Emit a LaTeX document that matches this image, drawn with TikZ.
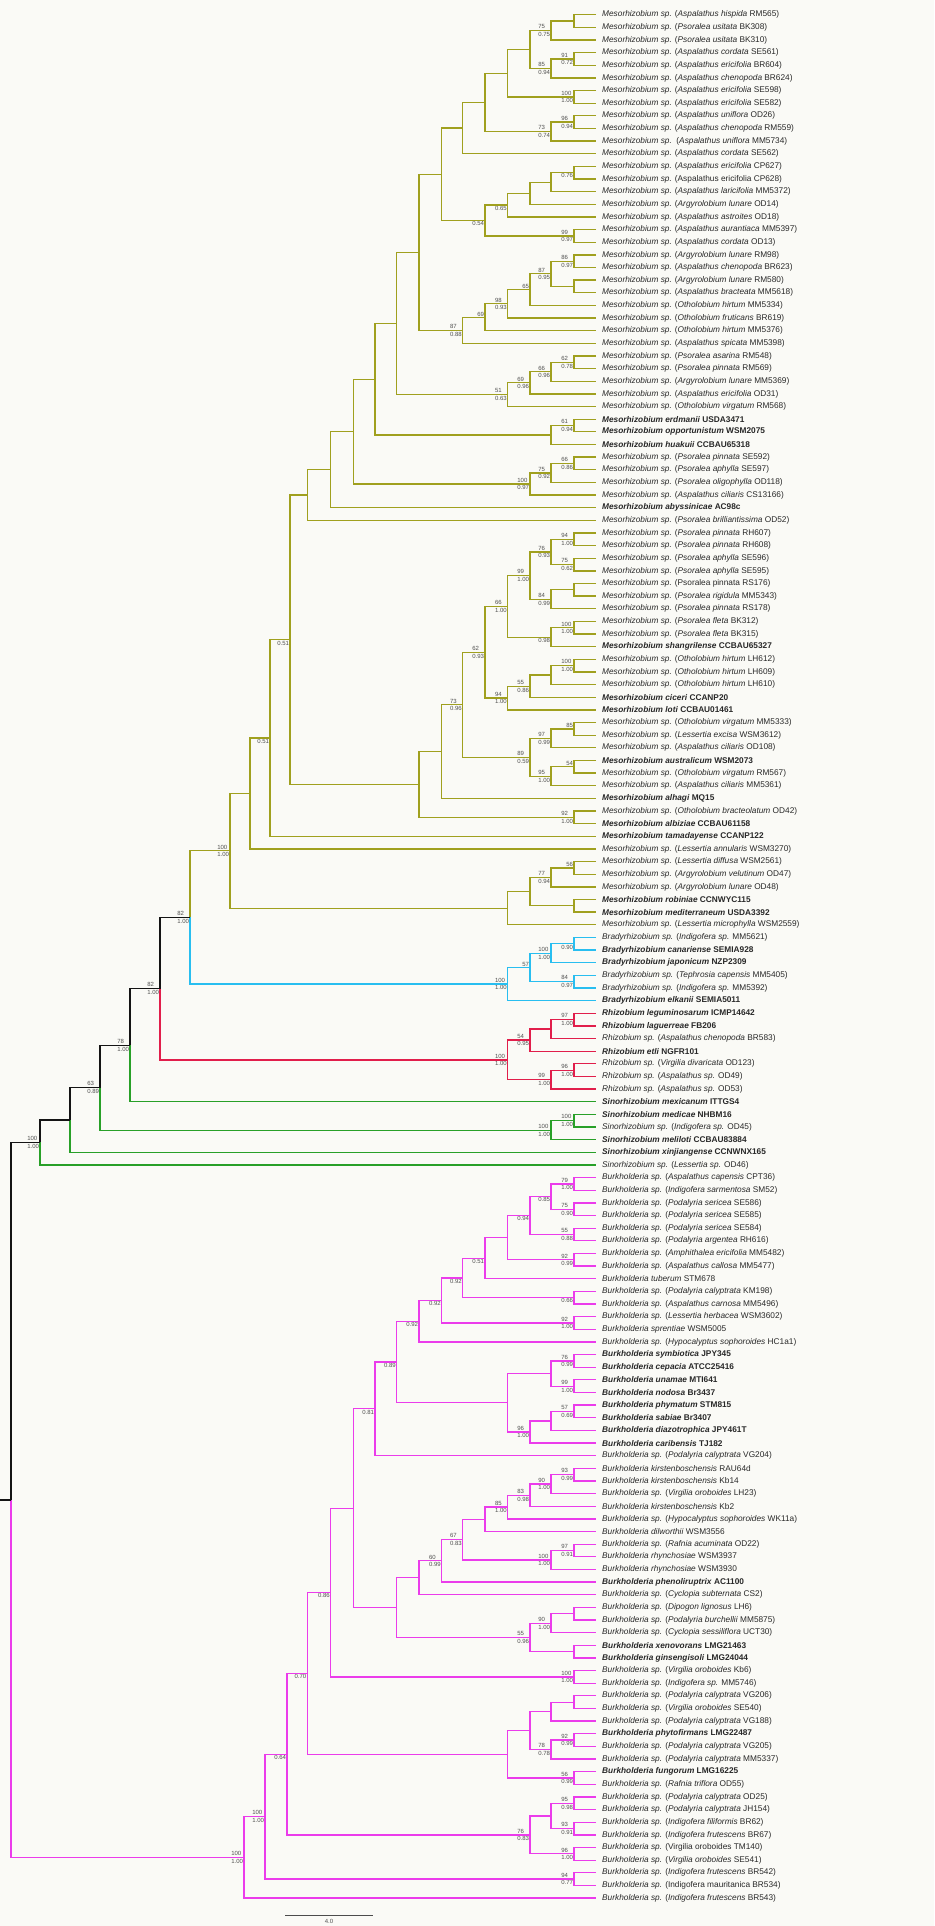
\documentclass[tikz,border=0pt]{standalone}
\usepackage{fontspec}
\setmainfont{Liberation Sans}
\usetikzlibrary{calc}
\definecolor{olv}{RGB}{160,160,30}
\definecolor{cyn}{RGB}{40,190,240}
\definecolor{rd}{RGB}{225,30,75}
\definecolor{grn}{RGB}{40,160,40}
\definecolor{mag}{RGB}{235,60,235}
\definecolor{bk}{RGB}{20,20,20}
\definecolor{bgc}{RGB}{250,250,246}
\definecolor{txt}{RGB}{40,40,40}
\definecolor{supc}{RGB}{80,80,80}
\tikzset{
 leaf/.style={anchor=west, inner sep=0pt, font=\fontsize{8.3}{9}\selectfont, text=txt},
 br/.style={line width=1.3pt, line join=miter},
 st/.style={inner sep=0pt, font=\fontsize{6}{7.6}\selectfont, text=supc, align=left},
}
\newcommand\ms[2]{\textit{Mesorhizobium sp.} (\textit{#1} #2)}
\newcommand\hs[3]{\textit{#1 sp.} (\textit{#2} #3)}
\newcommand\bb[2]{\textbf{\textit{#1}} \textbf{#2}}
\newcommand\lf[2]{\pgfmathsetmacro\yy{14.7+(#1-1)*12.64}\coordinate (t#1) at (596,\yy);\node[leaf] (L#1) at (602,\yy) {#2};}
\newcommand\nd[4]{\coordinate (#1) at ($(#3)!0.5!(#4)$);\coordinate (#1) at (#2,0 |- #1);}
\newcommand\nde[5]{\nd{#1}{#2}{#3}{#4}\draw[br,#5] (#3) -| (#1) |- (#4);}
\newcommand\ed[3]{\draw[br,#1] (#2) |- (#3);}
\newcommand\Lab[3]{\node[st,anchor=east] (lab-#1) at ([xshift=-0.8pt]#1) {#2\\#3};}
\newcommand\LabT[2]{\node[st,anchor=south east] (lab-#1) at ([xshift=-0.8pt,yshift=0.9pt]#1) {#2};}
\newcommand\LabB[2]{\node[st,anchor=north east] (lab-#1) at ([xshift=-0.8pt,yshift=-0.9pt]#1) {#2};}
\begin{document}
\begin{tikzpicture}[x=1pt,y=-1pt]
\fill[bgc] (0,0) rectangle (934,1926);
\useasboundingbox (0,0) rectangle (934,1926);
% ---------------- leaves
\lf{1}{\ms{Aspalathus hispida}{RM565}}
\lf{2}{\ms{Psoralea usitata}{BK308}}
\lf{3}{\ms{Psoralea usitata}{BK310}}
\lf{4}{\ms{Aspalathus cordata}{SE561}}
\lf{5}{\ms{Aspalathus ericifolia}{BR604}}
\lf{6}{\ms{Aspalathus chenopoda}{BR624}}
\lf{7}{\ms{Aspalathus ericifolia}{SE598}}
\lf{8}{\ms{Aspalathus ericifolia}{SE582}}
\lf{9}{\ms{Aspalathus uniflora}{OD26}}
\lf{10}{\ms{Aspalathus chenopoda}{RM559}}
\lf{11}{\textit{Mesorhizobium sp.}\ \ (\textit{Aspalathus uniflora} MM5734)}
\lf{12}{\ms{Aspalathus cordata}{SE562}}
\lf{13}{\ms{Aspalathus ericifolia}{CP627}}
\lf{14}{\textit{Mesorhizobium sp.} (Aspalathus ericifolia CP628)}
\lf{15}{\ms{Aspalathus laricifolia}{MM5372}}
\lf{16}{\ms{Argyrolobium lunare}{OD14}}
\lf{17}{\ms{Aspalathus astroites}{OD18}}
\lf{18}{\ms{Aspalathus aurantiaca}{MM5397}}
\lf{19}{\ms{Aspalathus cordata}{OD13}}
\lf{20}{\ms{Argyrolobium lunare}{RM98}}
\lf{21}{\ms{Aspalathus chenopoda}{BR623}}
\lf{22}{\ms{Argyrolobium lunare}{RM580}}
\lf{23}{\ms{Aspalathus bracteata}{MM5618}}
\lf{24}{\ms{Otholobium hirtum}{MM5334}}
\lf{25}{\ms{Otholobium fruticans}{BR619}}
\lf{26}{\ms{Otholobium hirtum}{MM5376}}
\lf{27}{\ms{Aspalathus spicata}{MM5398}}
\lf{28}{\ms{Psoralea asarina}{RM548}}
\lf{29}{\ms{Psoralea pinnata}{RM569}}
\lf{30}{\ms{Argyrolobium lunare}{MM5369}}
\lf{31}{\ms{Aspalathus ericifolia}{OD31}}
\lf{32}{\ms{Otholobium virgatum}{RM568}}
\lf{33}{\bb{Mesorhizobium erdmanii}{USDA3471}}
\lf{34}{\bb{Mesorhizobium opportunistum}{WSM2075}}
\lf{35}{\bb{Mesorhizobium huakuii}{CCBAU65318}}
\lf{36}{\ms{Psoralea pinnata}{SE592}}
\lf{37}{\ms{Psoralea aphylla}{SE597}}
\lf{38}{\ms{Psoralea oligophylla}{OD118}}
\lf{39}{\ms{Aspalathus ciliaris}{CS13166}}
\lf{40}{\bb{Mesorhizobium abyssinicae}{AC98c}}
\lf{41}{\ms{Psoralea brilliantissima}{OD52}}
\lf{42}{\ms{Psoralea pinnata}{RH607}}
\lf{43}{\ms{Psoralea pinnata}{RH608}}
\lf{44}{\ms{Psoralea aphylla}{SE596}}
\lf{45}{\ms{Psoralea aphylla}{SE595}}
\lf{46}{\textit{Mesorhizobium sp.} (Psoralea pinnata RS176)}
\lf{47}{\ms{Psoralea rigidula}{MM5343}}
\lf{48}{\ms{Psoralea pinnata}{RS178}}
\lf{49}{\ms{Psoralea fleta}{BK312}}
\lf{50}{\ms{Psoralea fleta}{BK315}}
\lf{51}{\bb{Mesorhizobium shangrilense}{CCBAU65327}}
\lf{52}{\ms{Otholobium hirtum}{LH612}}
\lf{53}{\ms{Otholobium hirtum}{LH609}}
\lf{54}{\ms{Otholobium hirtum}{LH610}}
\lf{55}{\bb{Mesorhizobium ciceri}{CCANP20}}
\lf{56}{\bb{Mesorhizobium loti}{CCBAU01461}}
\lf{57}{\ms{Otholobium virgatum}{MM5333}}
\lf{58}{\ms{Lessertia excisa}{WSM3612}}
\lf{59}{\ms{Aspalathus ciliaris}{OD108}}
\lf{60}{\bb{Mesorhizobium australicum}{WSM2073}}
\lf{61}{\ms{Otholobium virgatum}{RM567}}
\lf{62}{\ms{Aspalathus ciliaris}{MM5361}}
\lf{63}{\bb{Mesorhizobium alhagi}{MQ15}}
\lf{64}{\ms{Otholobium bracteolatum}{OD42}}
\lf{65}{\bb{Mesorhizobium albiziae}{CCBAU61158}}
\lf{66}{\bb{Mesorhizobium tamadayense}{CCANP122}}
\lf{67}{\ms{Lessertia annularis}{WSM3270}}
\lf{68}{\ms{Lessertia diffusa}{WSM2561}}
\lf{69}{\ms{Argyrolobium velutinum}{OD47}}
\lf{70}{\ms{Argyrolobium lunare}{OD48}}
\lf{71}{\bb{Mesorhizobium robiniae}{CCNWYC115}}
\lf{72}{\bb{Mesorhizobium mediterraneum}{USDA3392}}
\lf{73}{\ms{Lessertia microphylla}{WSM2559}}
\lf{74}{\hs{Bradyrhizobium}{Indigofera sp.}{MM5621}}
\lf{75}{\bb{Bradyrhizobium canariense}{SEMIA928}}
\lf{76}{\bb{Bradyrhizobium japonicum}{NZP2309}}
\lf{77}{\hs{Bradyrhizobium}{Tephrosia capensis}{MM5405}}
\lf{78}{\hs{Bradyrhizobium}{Indigofera sp.}{MM5392}}
\lf{79}{\bb{Bradyrhizobium elkanii}{SEMIA5011}}
\lf{80}{\bb{Rhizobium leguminosarum}{ICMP14642}}
\lf{81}{\bb{Rhizobium laguerreae}{FB206}}
\lf{82}{\hs{Rhizobium}{Aspalathus chenopoda}{BR583}}
\lf{83}{\bb{Rhizobium etli}{NGFR101}}
\lf{84}{\hs{Rhizobium}{Virgilia divaricata}{OD123}}
\lf{85}{\hs{Rhizobium}{Aspalathus sp.}{OD49}}
\lf{86}{\hs{Rhizobium}{Aspalathus sp.}{OD53}}
\lf{87}{\bb{Sinorhizobium mexicanum}{ITTGS4}}
\lf{88}{\bb{Sinorhizobium medicae}{NHBM16}}
\lf{89}{\hs{Sinorhizobium}{Indigofera sp.}{OD45}}
\lf{90}{\bb{Sinorhizobium meliloti}{CCBAU83884}}
\lf{91}{\bb{Sinorhizobium xinjiangense}{CCNWNX165}}
\lf{92}{\hs{Sinorhizobium}{Lessertia sp.}{OD46}}
\lf{93}{\hs{Burkholderia}{Aspalathus capensis}{CPT36}}
\lf{94}{\hs{Burkholderia}{Indigofera sarmentosa}{SM52}}
\lf{95}{\hs{Burkholderia}{Podalyria sericea}{SE586}}
\lf{96}{\hs{Burkholderia}{Podalyria sericea}{SE585}}
\lf{97}{\hs{Burkholderia}{Podalyria sericea}{SE584}}
\lf{98}{\hs{Burkholderia}{Podalyria argentea}{RH616}}
\lf{99}{\hs{Burkholderia}{Amphithalea ericifolia}{MM5482}}
\lf{100}{\hs{Burkholderia}{Aspalathus callosa}{MM5477}}
\lf{101}{\textit{Burkholderia tuberum} STM678}
\lf{102}{\hs{Burkholderia}{Podalyria calyptrata}{KM198}}
\lf{103}{\hs{Burkholderia}{Aspalathus carnosa}{MM5496}}
\lf{104}{\hs{Burkholderia}{Lessertia herbacea}{WSM3602}}
\lf{105}{\textit{Burkholderia sprentiae} WSM5005}
\lf{106}{\hs{Burkholderia}{Hypocalyptus sophoroides}{HC1a1}}
\lf{107}{\bb{Burkholderia symbiotica}{JPY345}}
\lf{108}{\bb{Burkholderia cepacia}{ATCC25416}}
\lf{109}{\bb{Burkholderia unamae}{MTI641}}
\lf{110}{\bb{Burkholderia nodosa}{Br3437}}
\lf{111}{\bb{Burkholderia phymatum}{STM815}}
\lf{112}{\bb{Burkholderia sabiae}{Br3407}}
\lf{113}{\bb{Burkholderia diazotrophica}{JPY461T}}
\lf{114}{\bb{Burkholderia caribensis}{TJ182}}
\lf{115}{\hs{Burkholderia}{Podalyria calyptrata}{VG204}}
\lf{116}{\textit{Burkholderia kirstenboschensis} RAU64d}
\lf{117}{\textit{Burkholderia kirstenboschensis} Kb14}
\lf{118}{\hs{Burkholderia}{Virgilia oroboides}{LH23}}
\lf{119}{\textit{Burkholderia kirstenboschensis} Kb2}
\lf{120}{\hs{Burkholderia}{Hypocalyptus sophoroides}{WK11a}}
\lf{121}{\textit{Burkholderia dilworthii} WSM3556}
\lf{122}{\hs{Burkholderia}{Rafnia acuminata}{OD22}}
\lf{123}{\textit{Burkholderia rhynchosiae} WSM3937}
\lf{124}{\textit{Burkholderia rhynchosiae} WSM3930}
\lf{125}{\bb{Burkholderia phenoliruptrix}{AC1100}}
\lf{126}{\hs{Burkholderia}{Cyclopia subternata}{CS2}}
\lf{127}{\hs{Burkholderia}{Dipogon lignosus}{LH6}}
\lf{128}{\hs{Burkholderia}{Podalyria burchellii}{MM5875}}
\lf{129}{\hs{Burkholderia}{Cyclopia sessiliflora}{UCT30}}
\lf{130}{\bb{Burkholderia xenovorans}{LMG21463}}
\lf{131}{\bb{Burkholderia ginsengisoli}{LMG24044}}
\lf{132}{\hs{Burkholderia}{Virgilia oroboides}{Kb6}}
\lf{133}{\hs{Burkholderia}{Indigofera sp.}{MM5746}}
\lf{134}{\hs{Burkholderia}{Podalyria calyptrata}{VG206}}
\lf{135}{\hs{Burkholderia}{Virgilia oroboides}{SE540}}
\lf{136}{\hs{Burkholderia}{Podalyria calyptrata}{VG188}}
\lf{137}{\bb{Burkholderia phytofirmans}{LMG22487}}
\lf{138}{\hs{Burkholderia}{Podalyria calyptrata}{VG205}}
\lf{139}{\hs{Burkholderia}{Podalyria calyptrata}{MM5337}}
\lf{140}{\bb{Burkholderia fungorum}{LMG16225}}
\lf{141}{\hs{Burkholderia}{Rafnia triflora}{OD55}}
\lf{142}{\hs{Burkholderia}{Podalyria calyptrata}{OD25}}
\lf{143}{\hs{Burkholderia}{Podalyria calyptrata}{JH154}}
\lf{144}{\hs{Burkholderia}{Indigofera filiformis}{BR62}}
\lf{145}{\hs{Burkholderia}{Indigofera frutescens}{BR67}}
\lf{146}{\textit{Burkholderia sp.} (Virgilia oroboides TM140)}
\lf{147}{\hs{Burkholderia}{Virgilia oroboides}{SE541}}
\lf{148}{\hs{Burkholderia}{Indigofera frutescens}{BR542}}
\lf{149}{\textit{Burkholderia sp.} (Indigofera mauritanica BR534)}
\lf{150}{\hs{Burkholderia}{Indigofera frutescens}{BR543}}
% ---------------- Mesorhizobium upper
\nde{m1}{574}{t1}{t2}{olv}
\nde{m2}{551}{m1}{t3}{olv}\Lab{m2}{75}{0.75}
\nde{m3}{574}{t4}{t5}{olv}\Lab{m3}{91}{0.72}
\nde{m4}{551}{m3}{t6}{olv}\Lab{m4}{85}{0.94}
\nde{m5}{530}{m2}{m4}{olv}
\nde{m6}{574}{t7}{t8}{olv}\Lab{m6}{100}{1.00}
\nde{m7}{507.7}{m5}{m6}{olv}
\nde{m8}{574}{t9}{t10}{olv}\Lab{m8}{96}{0.94}
\nde{m9}{551}{m8}{t11}{olv}\Lab{m9}{73}{0.74}
\nde{m10}{485}{m7}{m9}{olv}
\nde{m11}{462.7}{m10}{t12}{olv}
\nde{m12}{574}{t13}{t14}{olv}\LabB{m12}{0.76}
\nde{m13}{551}{m12}{t15}{olv}
\nde{m14}{530}{m13}{t16}{olv}
\nde{m15}{507.7}{m14}{t17}{olv}\LabB{m15}{0.65}
\nde{m16}{574}{t18}{t19}{olv}\Lab{m16}{99}{0.97}
\nde{m17}{485}{m15}{m16}{olv}\LabB{m17}{0.54}
\nde{m18}{441.7}{m11}{m17}{olv}
\nde{m19}{574}{t20}{t21}{olv}\Lab{m19}{86}{0.97}
\nde{m20}{574}{t22}{t23}{olv}
\nde{m21}{551}{m19}{m20}{olv}\Lab{m21}{87}{0.95}
\nde{m22}{530}{m21}{t24}{olv}\LabT{m22}{65}
\nde{m23}{507.7}{m22}{t25}{olv}\Lab{m23}{98}{0.93}
\nde{m24}{485}{m23}{t26}{olv}\LabT{m24}{69}
\nde{m25}{462.7}{m24}{t27}{olv}\Lab{m25}{87}{0.88}
\nde{m26}{419}{m18}{m25}{olv}
\nde{m27}{574}{t28}{t29}{olv}\Lab{m27}{62}{0.78}
\nde{m28}{551}{m27}{t30}{olv}\Lab{m28}{66}{0.96}
\nde{m29}{530}{m28}{t31}{olv}\Lab{m29}{69}{0.96}
\nde{m30}{507.7}{m29}{t32}{olv}\Lab{m30}{51}{0.63}
\nde{m31}{396.7}{m26}{m30}{olv}
\nde{m32}{574}{t33}{t34}{olv}\Lab{m32}{61}{0.94}
\nde{m33}{551}{m32}{t35}{olv}
\nde{m34}{375}{m31}{m33}{olv}
\nde{m35}{574}{t36}{t37}{olv}\Lab{m35}{66}{0.86}
\nde{m36}{551}{m35}{t38}{olv}\Lab{m36}{75}{0.92}
\nde{m37}{530}{m36}{t39}{olv}\Lab{m37}{100}{0.97}
\nde{m38}{353.3}{m34}{m37}{olv}
\nde{m39}{330.7}{m38}{t40}{olv}
\nde{m40}{307.3}{m39}{t41}{olv}
% ---------------- Mesorhizobium lower
\nde{n1}{574}{t42}{t43}{olv}\Lab{n1}{94}{1.00}
\nde{n2}{574}{t44}{t45}{olv}\Lab{n2}{75}{0.62}
\nde{n3}{551}{n1}{n2}{olv}\Lab{n3}{76}{0.93}
\nde{n4}{574}{t46}{t47}{olv}
\nde{n5}{551}{n4}{t48}{olv}\Lab{n5}{84}{0.99}
\nde{n6}{530}{n3}{n5}{olv}\Lab{n6}{99}{1.00}
\nde{n7}{574}{t49}{t50}{olv}\Lab{n7}{100}{1.00}
\nde{n8}{551}{n7}{t51}{olv}\LabB{n8}{0.98}
\nde{n9}{507.7}{n6}{n8}{olv}\Lab{n9}{66}{1.00}
\nde{n10}{574}{t52}{t53}{olv}\Lab{n10}{100}{1.00}
\nde{n11}{551}{n10}{t54}{olv}
\nde{n12}{530}{n11}{t55}{olv}\Lab{n12}{55}{0.86}
\nde{n13}{507.7}{n12}{t56}{olv}\Lab{n13}{94}{1.00}
\nde{n14}{485}{n9}{n13}{olv}\Lab{n14}{62}{0.93}
\nde{n15}{574}{t57}{t58}{olv}\LabT{n15}{85}
\nde{n16}{551}{n15}{t59}{olv}\Lab{n16}{97}{0.99}
\nde{n17}{574}{t60}{t61}{olv}\LabT{n17}{54}
\nde{n18}{551}{n17}{t62}{olv}\Lab{n18}{95}{1.00}
\nde{n19}{530}{n16}{n18}{olv}\Lab{n19}{89}{0.59}
\nde{n20}{462.7}{n14}{n19}{olv}\Lab{n20}{73}{0.96}
\nde{n21}{441.7}{n20}{t63}{olv}
\nde{n22}{574}{t64}{t65}{olv}\Lab{n22}{92}{1.00}
\nde{n23}{419}{n21}{n22}{olv}
\nde{n24}{574}{t68}{t69}{olv}\LabT{n24}{56}
\nde{n25}{551}{n24}{t70}{olv}\Lab{n25}{77}{0.94}
\nde{n26}{574}{t71}{t72}{olv}
\nde{n27}{530}{n25}{n26}{olv}
\nde{n28}{507.7}{n27}{t73}{olv}
% ---------------- Bradyrhizobium
\nde{b1}{574}{t74}{t75}{cyn}\LabB{b1}{0.90}
\nde{b2}{551}{b1}{t76}{cyn}\Lab{b2}{100}{1.00}
\nde{b3}{574}{t77}{t78}{cyn}\Lab{b3}{84}{0.97}
\nde{b4}{530}{b2}{b3}{cyn}\LabT{b4}{57}
\nde{b5}{507.7}{b4}{t79}{cyn}\Lab{b5}{100}{1.00}
% ---------------- Rhizobium
\nde{r1}{574}{t80}{t81}{rd}\Lab{r1}{97}{1.00}
\nde{r2}{551}{r1}{t82}{rd}
\nde{r3}{530}{r2}{t83}{rd}\Lab{r3}{54}{0.95}
\nde{r4}{574}{t84}{t85}{rd}\Lab{r4}{96}{1.00}
\nde{r5}{551}{r4}{t86}{rd}\Lab{r5}{99}{1.00}
\nde{r6}{507.7}{r3}{r5}{rd}\Lab{r6}{100}{1.00}
% ---------------- Sinorhizobium
\nde{s1}{574}{t88}{t89}{grn}\Lab{s1}{100}{1.00}
\nde{s2}{551}{s1}{t90}{grn}\Lab{s2}{100}{1.00}
% ---------------- Burkholderia
\nde{k1}{574}{t93}{t94}{mag}\Lab{k1}{79}{1.00}
\nde{k2}{574}{t95}{t96}{mag}\Lab{k2}{75}{0.90}
\nde{k3}{551}{k1}{k2}{mag}\LabB{k3}{0.85}
\nde{k4}{574}{t97}{t98}{mag}\Lab{k4}{55}{0.88}
\nde{k5}{530}{k3}{k4}{mag}\LabB{k5}{0.94}
\nde{k6}{574}{t99}{t100}{mag}\Lab{k6}{92}{0.99}
\nde{k7}{507.7}{k5}{k6}{mag}
\nde{k8}{485}{k7}{t101}{mag}\LabB{k8}{0.51}
\nde{k9}{574}{t102}{t103}{mag}\LabB{k9}{0.66}
\nde{k10}{462.7}{k8}{k9}{mag}\LabB{k10}{0.92}
\nde{k11}{574}{t104}{t105}{mag}\Lab{k11}{92}{1.00}
\nde{k12}{441.7}{k10}{k11}{mag}\LabB{k12}{0.92}
\nde{k13}{419}{k12}{t106}{mag}\LabB{k13}{0.92}
\nde{k14}{574}{t107}{t108}{mag}\Lab{k14}{76}{0.99}
\nde{k15}{574}{t109}{t110}{mag}\Lab{k15}{99}{1.00}
\nde{k16}{551}{k14}{k15}{mag}
\nde{k17}{574}{t111}{t112}{mag}\Lab{k17}{57}{0.69}
\nde{k18}{551}{k17}{t113}{mag}
\nde{k19}{530}{k18}{t114}{mag}\Lab{k19}{96}{1.00}
\nde{k20}{507.7}{k16}{k19}{mag}
\nde{k21}{396.7}{k13}{k20}{mag}\LabB{k21}{0.89}
\nde{k22}{375}{k21}{t115}{mag}\LabB{k22}{0.81}
\nde{k23}{574}{t116}{t117}{mag}\Lab{k23}{93}{0.99}
\nde{k24}{551}{k23}{t118}{mag}\Lab{k24}{90}{1.00}
\nde{k25}{530}{k24}{t119}{mag}\Lab{k25}{83}{0.98}
\nde{k26}{507.7}{k25}{t120}{mag}\Lab{k26}{85}{1.00}
\nde{k27}{485}{k26}{t121}{mag}
\nde{k28}{574}{t122}{t123}{mag}\Lab{k28}{97}{0.91}
\nde{k29}{551}{k28}{t124}{mag}\Lab{k29}{100}{1.00}
\nde{k30}{462.7}{k27}{k29}{mag}\Lab{k30}{67}{0.83}
\nde{k31}{441.7}{k30}{t125}{mag}\Lab{k31}{60}{0.99}
\nde{k32}{419}{k31}{t126}{mag}
\nde{k33}{574}{t127}{t128}{mag}
\nde{k34}{551}{k33}{t129}{mag}\Lab{k34}{90}{1.00}
\nde{k35}{574}{t130}{t131}{mag}
\nde{k36}{530}{k34}{k35}{mag}\Lab{k36}{55}{0.96}
\nde{k37}{396.7}{k32}{k36}{mag}
\nde{k38}{353.3}{k22}{k37}{mag}
\nde{k39}{574}{t132}{t133}{mag}\Lab{k39}{100}{1.00}
\nde{k40}{330.7}{k38}{k39}{mag}\LabB{k40}{0.86}
\nde{k41}{574}{t134}{t135}{mag}
\nde{k42}{551}{k41}{t136}{mag}
\nde{k43}{574}{t137}{t138}{mag}\Lab{k43}{92}{0.99}
\nde{k44}{551}{k43}{t139}{mag}\Lab{k44}{78}{0.78}
\nde{k45}{530}{k42}{k44}{mag}
\nde{k46}{574}{t140}{t141}{mag}\Lab{k46}{56}{0.99}
\nde{k47}{507.7}{k45}{k46}{mag}
\nde{k48}{307.3}{k40}{k47}{mag}\LabB{k48}{0.70}
\nde{k49}{574}{t142}{t143}{mag}\Lab{k49}{95}{0.98}
\nde{k50}{574}{t144}{t145}{mag}\Lab{k50}{93}{0.91}
\nde{k51}{551}{k49}{k50}{mag}
\nde{k52}{574}{t146}{t147}{mag}\Lab{k52}{96}{1.00}
\nde{k53}{530}{k51}{k52}{mag}\Lab{k53}{76}{0.83}
\nde{k54}{287}{k48}{k53}{mag}\LabB{k54}{0.64}
\nde{k55}{574}{t148}{t149}{mag}\Lab{k55}{94}{0.77}
\nde{k56}{265}{k54}{k55}{mag}\Lab{k56}{100}{1.00}
\nde{k57}{244}{k56}{t150}{mag}\Lab{k57}{100}{1.00}
% ---------------- backbone (provisional)
\nde{M1}{290}{m40}{n23}{olv}\LabB{M1}{0.51}
\nde{M2}{270}{M1}{t66}{olv}\LabB{M2}{0.51}
\nde{M3}{250}{M2}{t67}{olv}
\nde{MR}{230}{M3}{n28}{olv}\Lab{MR}{100}{1.00}
\nd{A1}{190}{MR}{b5}\ed{olv}{A1}{MR}\ed{cyn}{A1}{b5}\Lab{A1}{82}{1.00}
\nd{A2}{160}{A1}{r6}\ed{bk}{A2}{A1}\ed{rd}{A2}{r6}\Lab{A2}{82}{1.00}
\nd{A3}{130}{A2}{t87}\ed{bk}{A3}{A2}\ed{grn}{A3}{t87}\Lab{A3}{78}{1.00}
\nd{A4}{100}{A3}{s2}\ed{bk}{A4}{A3}\ed{grn}{A4}{s2}\Lab{A4}{63}{0.89}
\nd{A5}{70}{A4}{t91}\ed{bk}{A5}{A4}\ed{grn}{A5}{t91}
\nd{A6}{40}{A5}{t92}\ed{bk}{A6}{A5}\ed{grn}{A6}{t92}\Lab{A6}{100}{1.00}
\nd{R}{11}{A6}{k57}\ed{bk}{R}{A6}\ed{mag}{R}{k57}
\coordinate (R0) at (0,0 |- R);
\draw[br,bk] (R0) -- (R);
% scale bar
\coordinate (sb1) at (285,1915);
\coordinate (sb2) at (373,1915);
\draw[line width=0.8pt, black!70] (sb1) -- (sb2);
\node[st, anchor=north] (sblab) at ($(sb1)!0.5!(sb2)+(0,4)$) {4.0};
\end{tikzpicture}
\end{document}
